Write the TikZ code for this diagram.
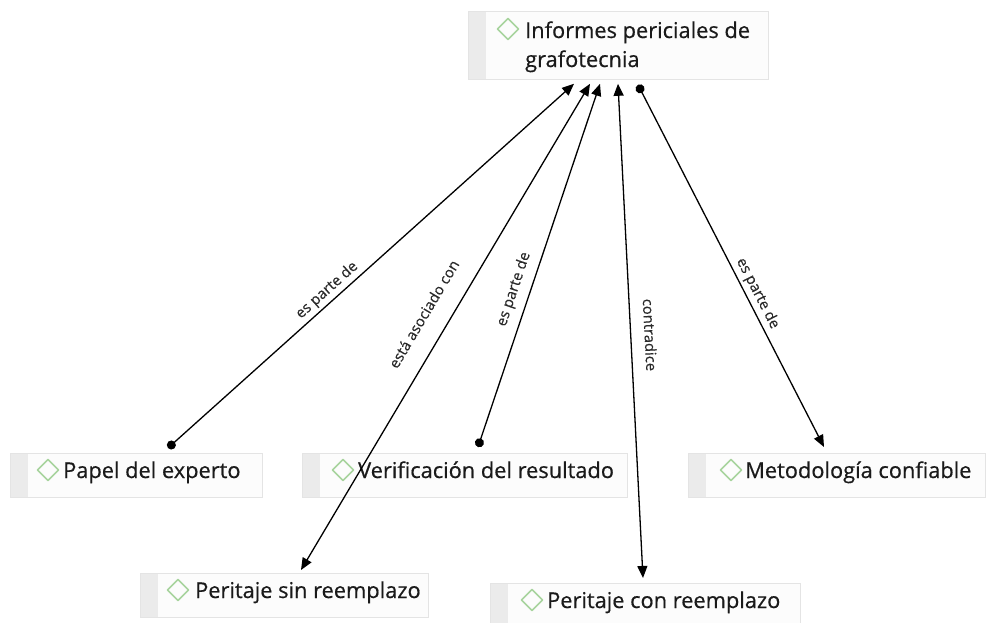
\documentclass[tikz,border=0pt]{standalone}
\usepackage{fontspec}
\setmainfont{Open Sans}
\newfontfamily\cfont{Open Sans}[FakeBold=0.5]
\newfontfamily\lfont{Open Sans}[FakeBold=0.4]
\usetikzlibrary{arrows.meta,calc}
\definecolor{stripc}{HTML}{EBEBEB}
\definecolor{boxfill}{HTML}{FCFCFC}
\definecolor{boxline}{HTML}{E4E4E4}
\definecolor{diac}{HTML}{A8D49E}
\definecolor{txtc}{HTML}{1A1A1A}
\definecolor{lblc}{HTML}{2A2A2A}
\begin{document}
\begin{tikzpicture}[x=1pt,y=-1pt,
  cbox/.style={draw=boxline, fill=boxfill, rectangle, anchor=north west, inner sep=0pt, line width=0.8pt,
    path picture={\fill[stripc] (path picture bounding box.north west) rectangle ([xshift=18pt]path picture bounding box.south west);}},
  ctext/.style={font=\cfont\fontsize{21.8}{29}\selectfont, text=txtc, inner sep=0pt, anchor=base west, align=left},
  diam/.style={draw=diac, line width=1.6pt, line join=round},
  conn/.style={line width=1.3pt, black},
  lbl/.style={font=\lfont\fontsize{14.8}{17}\selectfont, text=lblc, sloped, above, inner sep=3pt},
  tipAA/.style={{Triangle[length=12pt,width=10pt]}-{Triangle[length=12pt,width=10pt]}},
  tipDA/.style={{Circle[length=9pt]}-{Triangle[length=12pt,width=10pt]}}
]
\useasboundingbox (0,0) rectangle (989,622);
\begin{scope}
\clip (0,0) rectangle (989,622);
% boxes
\node[cbox, minimum width=300pt, minimum height=68pt] (top) at (468,11) {};
\node[cbox, minimum width=252pt, minimum height=44pt] (papel) at (10,453) {};
\node[cbox, minimum width=325pt, minimum height=44pt] (verif) at (302,453) {};
\node[cbox, minimum width=297pt, minimum height=44pt] (metod) at (688,453) {};
\node[cbox, minimum width=288pt, minimum height=44pt] (sin) at (140,573) {};
\node[cbox, minimum width=310pt, minimum height=44pt] (con) at (490,583) {};
% diamonds
\foreach \b/\dx in {papel/38, verif/41, metod/43, sin/38, con/42}{
  \draw[diam] ($(\b.north west)+(\dx,17)$) +(-10.5,0) -- +(0,-10.5) -- +(10.5,0) -- +(0,10.5) -- cycle;
}
\draw[diam] ($(top.north west)+(40,18)$) +(-10.5,0) -- +(0,-10.5) -- +(10.5,0) -- +(0,10.5) -- cycle;
% texts
\node[ctext] (topt) at ($(top.north west)+(57,56)$) {Informes periciales de\\grafotecnia};
\node[ctext] (papelt) at ($(papel.north west)+(53,25)$) {Papel del experto};
\node[ctext] (verift) at ($(verif.north west)+(56,25)$) {Verificación del resultado};
\node[ctext] (metodt) at ($(metod.north west)+(57,25)$) {Metodología confiable};
\node[ctext] (sint) at ($(sin.north west)+(55,25)$) {Peritaje sin reemplazo};
\node[ctext] (cont) at ($(con.north west)+(57,25)$) {Peritaje con reemplazo};
\end{scope}
% connectors
\draw[conn, tipDA] ($(papel.north west)+(158,-5)$) -- node[lbl, pos=0.41] (l1) {es parte de} ($(top.south west)+(106,4)$);
\draw[conn, tipAA] ($(top.south west)+(122,4)$) -- node[lbl, pos=0.50, above=16pt] (l2) {está asociado con} ($(sin.north west)+(161,-3)$);
\draw[conn, tipDA] ($(verif.north west)+(176,-6)$) -- node[lbl, pos=0.42, above=5pt] (l3) {es parte de} ($(top.south west)+(132,4)$);
\draw[conn, tipAA] ($(top.south west)+(150,4)$) -- node[lbl, pos=0.51, above=10pt] (l4) {contradice} ($(con.north west)+(153,-5)$);
\draw[conn, tipDA] ($(top.south west)+(170,5)$) -- node[lbl, pos=0.59] (l5) {es parte de} ($(metod.north west)+(136,-6)$);
\end{tikzpicture}
\end{document}
